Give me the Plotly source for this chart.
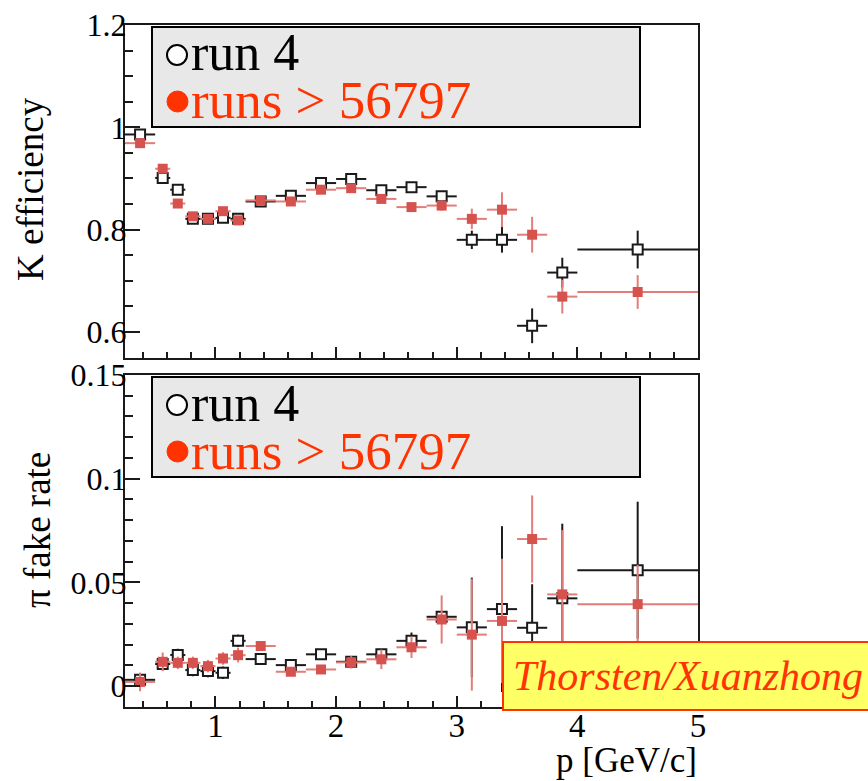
import plotly.graph_objects as go

# ---------------- data ----------------
p_center = [0.375, 0.5625, 0.6875, 0.8125, 0.9375, 1.0625, 1.1875, 1.375, 1.625, 1.875,
            2.125, 2.375, 2.625, 2.875, 3.125, 3.375, 3.625, 3.875, 4.5]
p_halfwidth = [0.125, 0.0625, 0.0625, 0.0625, 0.0625, 0.0625, 0.0625, 0.125, 0.125, 0.125,
               0.125, 0.125, 0.125, 0.125, 0.125, 0.125, 0.125, 0.125, 0.5]

keff_run4 = [0.986, 0.901, 0.878, 0.821, 0.821, 0.823, 0.821, 0.855, 0.866, 0.891,
             0.899, 0.877, 0.883, 0.865, 0.780, 0.780, 0.612, 0.716, 0.761]
keff_run4_err = [0.006, 0.005, 0.005, 0.005, 0.005, 0.005, 0.005, 0.005, 0.005, 0.005,
                 0.006, 0.006, 0.006, 0.008, 0.018, 0.025, 0.034, 0.029, 0.037]
keff_new = [0.969, 0.919, 0.851, 0.826, 0.821, 0.836, 0.818, 0.857, 0.855, 0.878,
            0.881, 0.860, 0.844, 0.847, 0.821, 0.839, 0.790, 0.669, 0.678]
keff_new_err = [0.006, 0.006, 0.006, 0.005, 0.005, 0.006, 0.006, 0.005, 0.005, 0.005,
                0.006, 0.006, 0.008, 0.010, 0.020, 0.034, 0.035, 0.033, 0.033]

fake_run4 = [0.003, 0.0106, 0.0150, 0.0077, 0.0072, 0.0064, 0.0218, 0.0130, 0.0101, 0.0153,
             0.0117, 0.0153, 0.0218, 0.0334, 0.0283, 0.0371, 0.0281, 0.0423, 0.0559]
fake_run4_err = [0.003, 0.003, 0.003, 0.003, 0.003, 0.003, 0.003, 0.002, 0.002, 0.002,
                 0.002, 0.002, 0.004, 0.002, 0.024, 0.040, 0.021, 0.036, 0.033]
fake_new = [0.002, 0.0117, 0.0112, 0.0112, 0.0096, 0.0133, 0.0149, 0.0193, 0.0069, 0.0080,
            0.0114, 0.0129, 0.0187, 0.0321, 0.0248, 0.0314, 0.0709, 0.0442, 0.0395]
fake_new_err = [0.0045, 0.0045, 0.003, 0.003, 0.003, 0.003, 0.0035, 0.002, 0.002, 0.002,
                0.003, 0.0047, 0.0052, 0.0116, 0.027, 0.030, 0.021, 0.031, 0.019]

legend_labels = ["run 4", "runs > 56797"]
y_titles = ["K efficiency", "π fake rate"]
x_title = "p [GeV/c]"
credit = "Thorsten/Xuanzhong"

# ---------------- styling / layout helpers ----------------
W, H = 868, 781
def px(x):
    return x / W
def py(y):
    return 1 - y / H

BLACK = "#1a1a1a"
RED_M = "#d6524e"
RED_E = "#e27d79"
RED_T = "#ff3300"
SERIF = "Liberation Serif"

fig = go.Figure()

def add_pair(xa, ya, y4, e4, yn, en):
    fig.add_trace(go.Scatter(
        x=p_center, y=y4, mode="markers", xaxis=xa, yaxis=ya, showlegend=False,
        marker=dict(symbol="square", size=10, color="white", line=dict(color=BLACK, width=2)),
        error_x=dict(type="data", array=p_halfwidth, width=0, thickness=2, color=BLACK),
        error_y=dict(type="data", array=e4, width=0, thickness=2, color=BLACK)))
    fig.add_trace(go.Scatter(
        x=p_center, y=yn, mode="markers", xaxis=xa, yaxis=ya, showlegend=False,
        marker=dict(symbol="square", size=10, color=RED_M, line=dict(width=0)),
        error_x=dict(type="data", array=p_halfwidth, width=0, thickness=2, color=RED_E),
        error_y=dict(type="data", array=en, width=0, thickness=2, color=RED_E)))

add_pair("x", "y", keff_run4, keff_run4_err, keff_new, keff_new_err)
add_pair("x2", "y2", fake_run4, fake_run4_err, fake_new, fake_new_err)

x_left, x_right = 125, 698
top_t, top_b = 25, 358
bot_t, bot_b = 375, 707

common_x = dict(range=[0.25, 5], showline=True, linecolor=BLACK, linewidth=2, mirror=True,
                ticks="inside", ticklen=11, tickwidth=2, tickcolor=BLACK, dtick=1, tick0=0,
                showgrid=False, zeroline=False, automargin=False, ticklabelstandoff=-12,
                minor=dict(ticks="inside", ticklen=6, tickwidth=1.5, tickcolor=BLACK, dtick=0.2, showgrid=False),
                domain=[px(x_left), px(x_right)],
                tickfont=dict(family=SERIF, size=33, color="black"))
common_y = dict(showline=True, linecolor=BLACK, linewidth=2, mirror=True,
                ticks="inside", ticklen=15, tickwidth=2, tickcolor=BLACK,
                showgrid=False, zeroline=False, ticklabelstandoff=-10, automargin=False,
                tickfont=dict(family=SERIF, size=32, color="black"))

fig.update_layout(
    template="none",
    width=W, height=H, margin=dict(l=0, r=0, t=0, b=0, pad=0), autosize=False,
    paper_bgcolor="white", plot_bgcolor="white", showlegend=False,
    font=dict(family=SERIF, color="black"),
    xaxis=dict(common_x, anchor="y", showticklabels=False),
    yaxis=dict(common_y, anchor="x", domain=[py(top_b), py(top_t)], range=[0.549, 1.2],
               tickvals=[0.6, 0.8, 1.0, 1.2], ticktext=["0.6", "0.8", "1", "1.2"],
               minor=dict(ticks="inside", ticklen=8, tickwidth=1.5, tickcolor=BLACK, dtick=0.05, tick0=0)),
    xaxis2=dict(common_x, anchor="y2", showticklabels=True, matches="x"),
    yaxis2=dict(common_y, anchor="x2", domain=[py(bot_b), py(bot_t)], range=[-0.0101, 0.15],
                tickvals=[0, 0.05, 0.1, 0.15], ticktext=["0", "0.05", "0.1", "0.15"],
                minor=dict(ticks="inside", ticklen=8, tickwidth=1.5, tickcolor=BLACK, dtick=0.01, tick0=0)),
)

shapes = []
annotations = []

legend_text = ("<span style='font-size:52px'>" + legend_labels[0] + "</span><br>"
               "<span style='font-size:53px;color:" + RED_T + "'>"
               + legend_labels[1].replace(">", "&gt;") + "</span>")

# legend boxes (top and bottom panels)
for off in (0, 350):
    shapes.append(dict(type="rect", xref="paper", yref="paper",
                       x0=px(152), x1=px(640), y0=py(127 + off), y1=py(27 + off),
                       fillcolor="#e8e8e8", line=dict(color="black", width=2), layer="above"))
    shapes.append(dict(type="circle", xref="paper", yref="paper",
                       x0=px(167), x1=px(187), y0=py(65 + off), y1=py(45 + off),
                       fillcolor="white", line=dict(color="black", width=2), layer="above"))
    shapes.append(dict(type="circle", xref="paper", yref="paper",
                       x0=px(167), x1=px(188), y0=py(112 + off), y1=py(91 + off),
                       fillcolor=RED_T, line=dict(color=RED_T, width=1), layer="above"))
    annotations.append(dict(text=legend_text, xref="paper", yref="paper",
                            x=px(189), y=py(77 + off), xanchor="left", yanchor="middle",
                            align="left", showarrow=False,
                            font=dict(family=SERIF, size=37, color="black")))

# credit box
shapes.append(dict(type="rect", xref="paper", yref="paper",
                   x0=px(503), x1=px(872), y0=py(710), y1=py(642),
                   fillcolor="#ffff66", line=dict(color=RED_T, width=2), layer="above"))
annotations.append(dict(text=credit, xref="paper", yref="paper",
                        x=px(511), y=py(676), xanchor="left", yanchor="middle",
                        showarrow=False, font=dict(family=SERIF, size=42, color=RED_T, style="italic")))

# axis titles
annotations.append(dict(text=y_titles[0], xref="paper", yref="paper", x=px(31), y=py(189),
                        xanchor="center", yanchor="middle", textangle=-90, showarrow=False,
                        font=dict(family=SERIF, size=37, color="black")))
annotations.append(dict(text=y_titles[1], xref="paper", yref="paper", x=px(37), y=py(530),
                        xanchor="center", yanchor="middle", textangle=-90, showarrow=False,
                        font=dict(family=SERIF, size=37, color="black")))
annotations.append(dict(text=x_title, xref="paper", yref="paper", x=px(699), y=py(760),
                        xanchor="right", yanchor="middle", showarrow=False,
                        font=dict(family=SERIF, size=35, color="black")))

fig.update_layout(shapes=shapes, annotations=annotations)
fig.write_html("out.html")
